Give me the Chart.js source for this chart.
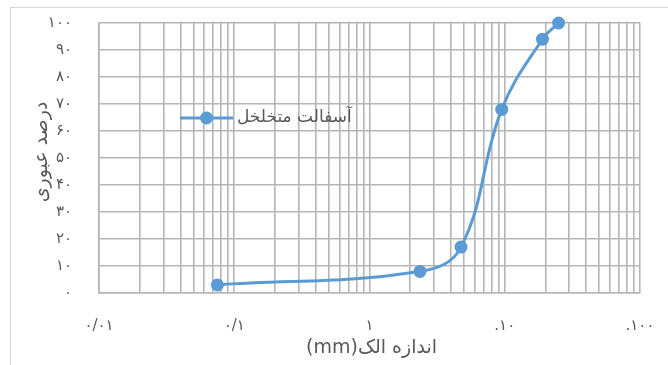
<!DOCTYPE html>
<html>
<head>
<meta charset="utf-8">
<script src="https://cdn.jsdelivr.net/npm/chart.js@4"></script>
<style>
  html, body { margin: 0; padding: 0; background: #ffffff; overflow: hidden; }
  #frame { position: absolute; left: 10px; top: 7px; width: 700px; height: 400px; border: 1px solid #d9d9d9; }
  #wrap { position: absolute; left: 0; top: 0; width: 668px; height: 365px; }
</style>
</head>
<body>
<div id="frame"></div>
<div id="wrap"><canvas id="c" width="668" height="365"></canvas></div>
<script>
// Grading curve: percent passing vs sieve size (mm)
const seriesName = 'آسفالت متخلخل';
const sieveSizes = [0.075, 2.36, 4.75, 9.5, 19, 25];
const percentPassing = [3, 8, 17, 68, 94, 100];

// Axis tick labels
const xDecades = [0.01, 0.1, 1, 10, 100];
const xTickLabels = ['۰/۰۱', '۰/۱', '۱', '.۱۰', '.۱۰۰'];
const yTickLabels = ['۰', '۱۰', '۲۰', '۳۰', '۴۰', '۵۰', '۶۰', '۷۰', '۸۰', '۹۰', '۱۰۰'];

// Axis titles
const xTitle = 'اندازه الک(mm)';
const yTitle = 'درصد عبوری';

const TEXT_COLOR = '#595959';
const GRID_COLOR = '#b8b5b5';
const LINE_COLOR = '#5b9bd5';
const FONT = "'DejaVu Sans', 'Noto Sans', sans-serif";

// Log grid lines: 1..9 within every decade
function logGridTicks() {
  const ticks = [];
  for (let d = 0; d < xDecades.length - 1; d++) {
    for (let m = 1; m <= 9; m++) ticks.push({ value: xDecades[d] * m });
  }
  ticks.push({ value: xDecades[xDecades.length - 1] });
  return ticks;
}

function xLabelFor(v) {
  for (let i = 0; i < xDecades.length; i++) {
    if (Math.abs(Math.log10(v) - Math.log10(xDecades[i])) < 1e-6) return xTickLabels[i];
  }
  return '';
}

// Axis titles (right-to-left text) and the in-plot legend
const extrasPlugin = {
  id: 'extras',
  afterDraw(chart) {
    const ctx = chart.ctx;
    const area = chart.chartArea;
    const ds = chart.data.datasets[0];

    // y title, rotated
    ctx.save();
    ctx.fillStyle = TEXT_COLOR;
    ctx.font = '19px ' + FONT;
    ctx.direction = 'rtl';
    ctx.textAlign = 'center';
    ctx.textBaseline = 'middle';
    ctx.translate(area.left - 57, area.top + 129);
    ctx.rotate(-Math.PI / 2);
    ctx.fillText(yTitle, 0, 0);
    ctx.restore();

    // x title
    ctx.save();
    ctx.fillStyle = TEXT_COLOR;
    ctx.font = '19px ' + FONT;
    ctx.direction = 'rtl';
    ctx.textAlign = 'center';
    ctx.textBaseline = 'middle';
    ctx.fillText(xTitle, (area.left + area.right) / 2 + 2, area.bottom + 55);
    ctx.restore();

    // legend entry
    const lx = area.left + 81, ly = area.top + 95, len = 53;
    ctx.save();
    ctx.strokeStyle = ds.borderColor;
    ctx.lineWidth = ds.borderWidth;
    ctx.beginPath();
    ctx.moveTo(lx, ly);
    ctx.lineTo(lx + len, ly);
    ctx.stroke();
    ctx.fillStyle = ds.pointBackgroundColor;
    ctx.beginPath();
    ctx.arc(lx + len / 2, ly, ds.pointRadius, 0, Math.PI * 2);
    ctx.fill();
    ctx.fillStyle = TEXT_COLOR;
    ctx.font = '17px ' + FONT;
    ctx.textAlign = 'left';
    ctx.textBaseline = 'middle';
    ctx.fillText(ds.label, lx + len + 4, ly);
    ctx.restore();
  }
};

new Chart(document.getElementById('c'), {
  type: 'line',
  data: {
    datasets: [{
      label: seriesName,
      data: sieveSizes.map((x, i) => ({ x: x, y: percentPassing[i] })),
      borderColor: LINE_COLOR,
      backgroundColor: LINE_COLOR,
      pointBackgroundColor: LINE_COLOR,
      pointBorderColor: LINE_COLOR,
      borderWidth: 3,
      pointRadius: 6.5,
      pointBorderWidth: 0,
      tension: 0.4,
      clip: false
    }]
  },
  options: {
    responsive: false,
    animation: false,
    devicePixelRatio: 1,
    layout: { padding: { left: 0, right: 28, top: 23, bottom: 0 } },
    plugins: { legend: { display: false }, tooltip: { enabled: false } },
    scales: {
      x: {
        type: 'logarithmic',
        min: 0.01,
        max: 100,
        afterBuildTicks(scale) { scale.ticks = logGridTicks(); },
        afterFit(scale) {
          scale.height = 72;
          scale.paddingLeft = 0;
          scale.paddingRight = 0;
        },
        grid: { color: GRID_COLOR, lineWidth: 1.6, drawTicks: false },
        border: { color: GRID_COLOR, width: 1.6 },
        ticks: {
          autoSkip: false,
          maxRotation: 0,
          padding: 24,
          color: TEXT_COLOR,
          font: { family: FONT, size: 15 },
          callback: (v) => xLabelFor(v)
        },
        title: { display: false }
      },
      y: {
        min: 0,
        max: 100,
        afterFit(scale) {
          scale.width = 99;
          scale.paddingTop = 0;
          scale.paddingBottom = 0;
        },
        grid: { color: GRID_COLOR, lineWidth: 1.6, drawTicks: false },
        border: { color: GRID_COLOR, width: 1.6 },
        ticks: {
          stepSize: 10,
          padding: 27,
          color: TEXT_COLOR,
          font: { family: FONT, size: 15 },
          callback: (v, i) => yTickLabels[i]
        }
      }
    }
  },
  plugins: [extrasPlugin]
});
</script>
</body>
</html>
